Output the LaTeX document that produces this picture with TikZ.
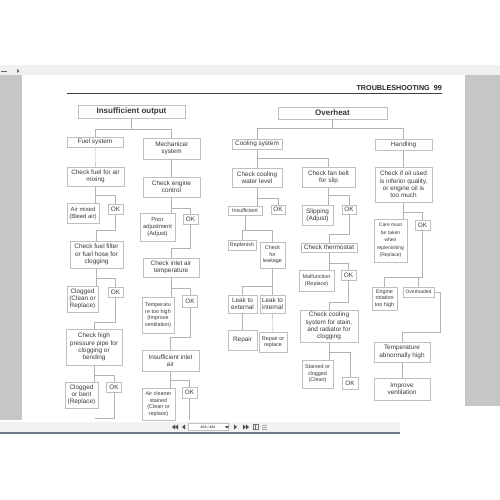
\documentclass[tikz,border=0pt]{standalone}
\usepackage{fontspec}
\setmainfont{Liberation Sans}
\definecolor{barline}{RGB}{112,122,140}
\tikzset{
  box/.style={draw=gray!50, line width=.4pt, align=center, inner sep=.5pt,
    text=black!78, font=\fontsize{6.4}{7.3}\selectfont},
  smalltxt/.style={font=\fontsize{5.4}{6.5}\selectfont},
  okbox/.style={box, minimum width=15, minimum height=10},
  headbox/.style={box, font=\bfseries\fontsize{8}{9}\selectfont},
  link/.style={draw=gray!60, line width=.4pt},
  tool/.style={fill=black!70},
}
\begin{document}
\begin{tikzpicture}[x=1pt,y=-1pt]
\useasboundingbox (0,0) rectangle (500,500);

% viewer frame
\fill[gray!12] (0,65) rectangle (500,75);
\fill[gray!45] (0,75) rectangle (22,420);
\fill[gray!45] (465,75) rectangle (500,406);
\fill[gray!10] (0,422) rectangle (400,432);
\draw[line width=1.2pt, barline] (0,433) -- (400,433);
\draw[black!60, line width=.5pt] (1,71) -- (7,71);
\fill[black!60] (17,69) -- (19.5,71) -- (17,73) -- cycle;
\fill[tool] (172,427) -- (175,424.5) -- (175,429.5) -- cycle;
\fill[tool] (175,427) -- (178,424.5) -- (178,429.5) -- cycle;
\fill[tool] (182,427) -- (185,424.5) -- (185,429.5) -- cycle;
\node[draw=gray!50, fill=white, minimum width=40, minimum height=7, inner sep=0pt,
  font=\fontsize{3.5}{4}\selectfont] (pagebox) at (208,427) {403 / 404\hspace{18pt}};
\fill[tool] (225,426) -- (229,426) -- (227,428.5) -- cycle;
\fill[tool] (234,424.5) -- (237,427) -- (234,429.5) -- cycle;
\fill[tool] (243,424.5) -- (246,427) -- (243,429.5) -- cycle;
\fill[tool] (246,424.5) -- (249,427) -- (246,429.5) -- cycle;
\draw[black!55, line width=.4pt] (253,424.5) rectangle (258,429.5) (255.5,424.5) -- (255.5,429.5);
\draw[black!35, line width=.4pt] (262,425) -- (267,425) (262,427) -- (267,427) (262,429) -- (267,429);

% page header
\node[anchor=base east, inner sep=0pt, font=\bfseries\fontsize{7.2}{8}\selectfont, text=black!85]
  (pagehead) at (442,91) {TROUBLESHOOTING\ \ 99};
\draw[line width=1.3pt, black!75] (67,93.5) -- (442,93.5);

% insufficient output
\node[headbox, minimum width=107, minimum height=13] (outp) at (131.5,111.5) {Insufficient output};
\node[box, minimum width=56, minimum height=10] (fuel) at (95,142) {Fuel system};
\node[box, minimum width=57, minimum height=21] (mech) at (171.5,148.5) {Mechanical\\system};
\node[box, minimum width=57, minimum height=19] (airmix) at (95.5,176.5) {Check fuel for air\\mixing};
\node[box, minimum width=32, minimum height=20, font=\fontsize{5.9}{7}\selectfont] (bleed) at (83,213) {Air mixed\\(Bleed air)};
\node[okbox] (ok1) at (115.5,209) {OK};
\node[box, minimum width=53, minimum height=27] (filter) at (96.5,254.5) {Check fuel filter\\or fuel hose for\\clogging};
\node[box, minimum width=31, minimum height=26] (clog) at (82.5,299) {Clogged\\(Clean or\\Replace)};
\node[okbox] (ok2) at (115.5,292) {OK};
\node[box, minimum width=56, minimum height=36] (hpipe) at (94,347) {Check high\\pressure pipe for\\clogging or\\bending};
\node[box, minimum width=33, minimum height=26] (bent) at (81.5,395) {Clogged\\or bent\\(Replace)};
\node[okbox] (ok3) at (114,387) {OK};
\coordinate (fuelend) at (95,418);

\node[box, minimum width=57, minimum height=20] (engctl) at (171.5,187) {Check engine\\control};
\node[box, minimum width=35, minimum height=28, font=\fontsize{5.9}{7}\selectfont] (pooradj) at (157.5,227) {Poor\\adjustment\\(Adjust)};
\node[okbox] (ok4) at (190.5,219) {OK};
\node[box, minimum width=56, minimum height=19] (inlet) at (171,267.5) {Check inlet air\\temperature};
\node[box, minimum width=32, minimum height=36, smalltxt] (temphigh) at (158,315) {Temperatu\\re too high\\(Improve\\ventilation)};
\node[okbox, minimum height=12] (ok5) at (190,301) {OK};
\node[box, minimum width=57, minimum height=21] (inair) at (170.5,360.5) {Insufficient inlet\\air};
\node[box, minimum width=33, minimum height=32, smalltxt] (cleaner) at (158.5,404) {Air cleaner\\stained\\(Clean or\\replace)};
\node[okbox, minimum height=11] (ok6) at (189.5,392.5) {OK};
\coordinate (mechend) at (189.5,420);

% overheat
\node[headbox, minimum width=109, minimum height=12] (ovh) at (332.5,113) {Overheat};
\node[box, minimum width=50, minimum height=10] (cool) at (257,144) {Cooling system};
\node[box, minimum width=50, minimum height=19] (water) at (257,177.5) {Check cooling\\water level};
\node[box, minimum width=34, minimum height=9, smalltxt] (insuf) at (245,210.5) {Insufficient};
\node[okbox, minimum width=14, minimum height=9] (ok7) at (278,209.5) {OK};
\node[box, minimum width=28, minimum height=10, smalltxt] (replen) at (242,245) {Replenish};
\node[box, minimum width=25, minimum height=26, smalltxt] (leakchk) at (272.5,255) {Check\\for\\leakage};
\node[box, minimum width=29, minimum height=18] (lext) at (242.5,304) {Leak to\\external};
\node[box, minimum width=25, minimum height=18] (lint) at (272.5,304) {Leak to\\internal};
\node[box, minimum width=29, minimum height=20] (repair) at (242.5,340) {Repair};
\node[box, minimum width=28, minimum height=20, smalltxt] (repl) at (273,342) {Repair or\\replace};

\node[box, minimum width=53, minimum height=20] (fanbelt) at (328.5,177) {Check fan belt\\for slip};
\node[box, minimum width=31, minimum height=20] (slip) at (317.5,215) {Slipping\\(Adjust)};
\node[okbox, minimum width=14, minimum height=9] (ok8) at (349,209.5) {OK};
\node[box, minimum width=56, minimum height=9] (thermo) at (329,247.5) {Check thermostat};
\node[box, minimum width=35, minimum height=21, smalltxt] (malf) at (316.5,280.5) {Malfunction\\(Replace)};
\node[okbox] (ok9) at (348.5,275) {OK};
\node[box, minimum width=58, minimum height=32] (stain) at (329,326) {Check cooling\\system for stain,\\and radiator for\\clogging};
\node[box, minimum width=31, minimum height=28, smalltxt] (stained) at (317.5,374) {Stained or\\clogged\\(Clean)};
\node[okbox, minimum width=16, minimum height=12] (ok10) at (350,383) {OK};

\node[box, minimum width=57, minimum height=11] (hand) at (403.5,144.5) {Handling};
\node[box, minimum width=57, minimum height=35] (oil) at (403.5,184.5) {Check if oil used\\is inferior quality,\\or engine oil is\\too much};
\node[box, minimum width=33, minimum height=43, font=\fontsize{5}{7.6}\selectfont] (care) at (390.5,240.5) {Care must\\be taken\\when\\replenishing\\(Replace)};
\node[okbox] (ok11) at (422.5,225) {OK};
\node[box, minimum width=25, minimum height=23, smalltxt] (engine) at (384.5,298.5) {Engine\\rotation\\too high};
\node[box, minimum width=31, minimum height=10, font=\fontsize{5}{6}\selectfont] (overl) at (418.5,292) {Overloaded};
\coordinate (hbus) at (440,332);
\node[box, minimum width=56, minimum height=20] (tabn) at (402,352) {Temperature\\abnormally high};
\node[box, minimum width=56, minimum height=22] (vent) at (402,389) {Improve\\ventilation};

% links, insufficient output
\draw[link] (outp.south) -- ++(0,10.5) -| (fuel.north);
\draw[link] (outp.south) ++(0,10.5) -| (mech.north);
\draw[link] (fuel) -- (airmix);
\draw[link] (mech) -- (engctl);
\draw[link] (airmix.south) -- (bleed.north -| airmix.south);
\draw[link] (airmix.south) ++(0,9) -| (ok1.north);
\draw[link] (ok1.south) -- ++(0,16) -| (filter.north);
\draw[link] (filter.south) -- (clog.north -| filter.south);
\draw[link] (filter.south) ++(0,10) -| (ok2.north);
\draw[link] (ok2.south) -- ++(0,25) -| (hpipe.north);
\draw[link] (hpipe.south) -- (bent.north -| hpipe.south);
\draw[link] (hpipe.south) ++(0,10) -| (ok3.north);
\draw[link] (ok3.south) |- (fuelend);

\draw[link] (engctl.south) -- (pooradj.north -| engctl.south);
\draw[link] (engctl.south) ++(0,11) -| (ok4.north);
\draw[link] (ok4.south) -- ++(0,24) -| (inlet.north);
\draw[link] (inlet.south) -- (temphigh.north -| inlet.south);
\draw[link] (inlet.south) ++(0,11) -| (ok5.north);
\draw[link] (ok5.south) -- ++(0,30) -| (inair.north);
\draw[link] (inair.south) -- (cleaner.north -| inair.south);
\draw[link] (inair.south) ++(0,9) -| (ok6.north);
\draw[link] (ok6.south) -- (mechend);

% links, overheat
\draw[link] (ovh.south) -- ++(0,9) -| (cool.north);
\draw[link] (ovh.south) ++(0,9) -| (hand.north);
\draw[link] (cool) -- (water);
\draw[link] (cool.south) ++(0,9) -| (fanbelt.north);
\draw[link] (water.south) -- (insuf.north -| water.south);
\draw[link] (water.south) ++(0,11) -| (ok7.north);
\draw[link] (insuf.south) -- ++(0,15) -| (replen.north);
\draw[link] (insuf.south) ++(0,15) -| (leakchk.north);
\draw[link] (leakchk.south) -- ++(0,18) -| (lext.north);
\draw[link] (leakchk.south) ++(0,18) -| (lint.north);
\draw[link] (lext) -- (repair);
\draw[link] (lint) -- (repl);

\draw[link] (fanbelt.south) -- (slip.north -| fanbelt.south);
\draw[link] (fanbelt.south) ++(0,8) -| (ok8.north);
\draw[link] (ok8.south) -- ++(0,20) -| (thermo.north);
\draw[link] (thermo.south) -- (malf.north -| thermo.south);
\draw[link] (thermo.south) ++(0,11) -| (ok9.north);
\draw[link] (ok9.south) -- ++(0,22) -| (stain.north);
\draw[link] (stain.south) -- (stained.north -| stain.south);
\draw[link] (stain.south) ++(0,10) -| (ok10.north);

\draw[link] (hand) -- (oil);
\draw[link] (oil.south) -- (care.north -| oil.south);
\draw[link] (oil.south) ++(0,10) -| (ok11.north);
\draw[link] (ok11.south) -- ++(0,47) -| (engine.north);
\draw[link] (ok11.south) ++(0,47) -| (overl.north);
\draw[link] (overl.east) -| (hbus) -| (tabn.north);
\draw[link] (tabn) -- (vent);
\end{tikzpicture}
\end{document}
